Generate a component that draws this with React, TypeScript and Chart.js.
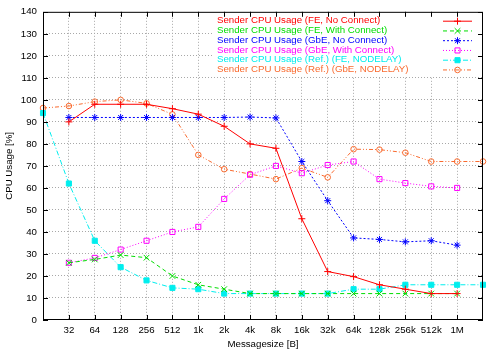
import React, { useEffect, useRef } from "react";
import { Chart, registerables } from "chart.js";

Chart.register(...registerables);

const messageSizes = ["16", "32", "64", "128", "256", "512", "1k", "2k", "4k", "8k", "16k", "32k", "64k", "128k", "256k", "512k", "1M", "2M"];
const yTicks = [0, 10, 20, 30, 40, 50, 60, 70, 80, 90, 100, 110, 120, 130, 140];

const feNoConnect = [null, 90, 98, 98, 98, 96, 93.5, 88, 80, 78, 46, 22, 19.7, 16, 14, 12, 12, null];
const feWithConnect = [null, 26, 27.5, 29.5, 28.3, 20, 16, 14, 12, 12, 12, 12, 12, 12, 12, 12, 12, null];
const gbeNoConnect = [null, 92, 92, 92, 92, 92, 92, 92, 92.2, 91.8, 72, 54.2, 37.3, 36.6, 35.5, 36, 34, null];
const gbeWithConnect = [null, 26, 28.2, 32, 36, 40, 42.3, 55, 66, 70, 66.7, 70.4, 72, 64, 62.2, 60.7, 60, null];
const refFeNodelay = [94, 62, 36, 24, 18, 14.6, 14, 12, 12, 12, 12, 12, 14, 14, 16, 16, 16, 16];
const refGbeNodelay = [96.3, 97.2, 99.2, 100, 98.4, 93.4, 75, 68.5, 66.3, 64, 69, 64.8, 77.6, 77.4, 76, 72, 72, 72];

const seriesLabels = [
  "Sender CPU Usage (FE, No Connect)",
  "Sender CPU Usage (FE, With Connect)",
  "Sender CPU Usage (GbE, No Connect)",
  "Sender CPU Usage (GbE, With Connect)",
  "Sender CPU Usage (Ref.) (FE, NODELAY)",
  "Sender CPU Usage (Ref.) (GbE, NODELAY)",
];

const FONT = '"Liberation Sans", Arial, sans-serif';
const FS = 9.7;

type Style = { color: string; dash: number[]; point: string; radius: number; fill: boolean };
const styles: Style[] = [
  { color: "#ff0000", dash: [], point: "cross", radius: 3.5, fill: false },
  { color: "#00dd00", dash: [4, 3], point: "crossRot", radius: 4, fill: false },
  { color: "#0000ff", dash: [2, 2], point: "star", radius: 3.5, fill: false },
  { color: "#ff00ff", dash: [1, 2], point: "rect", radius: 3.6, fill: false },
  { color: "#00eeee", dash: [5, 2, 1, 2], point: "rect", radius: 3.6, fill: true },
  { color: "#f96a2e", dash: [4, 2, 1, 2, 1, 2], point: "circle", radius: 2.8, fill: false },
];

function drawMarker(ctx: CanvasRenderingContext2D, s: Style, x: number, y: number) {
  const r = s.radius;
  ctx.save();
  ctx.setLineDash([]);
  ctx.strokeStyle = s.color;
  ctx.fillStyle = s.color;
  ctx.lineWidth = 1;
  ctx.beginPath();
  if (s.point === "cross" || s.point === "star") {
    ctx.moveTo(x - r, y);
    ctx.lineTo(x + r, y);
    ctx.moveTo(x, y - r);
    ctx.lineTo(x, y + r);
  }
  if (s.point === "crossRot" || s.point === "star") {
    const d = r * Math.SQRT1_2;
    ctx.moveTo(x - d, y - d);
    ctx.lineTo(x + d, y + d);
    ctx.moveTo(x - d, y + d);
    ctx.lineTo(x + d, y - d);
  }
  if (s.point === "rect") {
    const h = r * Math.SQRT1_2;
    ctx.rect(x - h, y - h, 2 * h, 2 * h);
    if (s.fill) ctx.fill();
  }
  if (s.point === "circle") {
    ctx.arc(x, y, r, 0, Math.PI * 2);
  }
  ctx.stroke();
  ctx.restore();
}

const decorPlugin = {
  id: "decor",
  afterDatasetsDraw(chart: any) {
    const { ctx, chartArea: a, scales } = chart;
    ctx.save();
    // legend box
    const boxLeft = 213;
    ctx.fillStyle = "#ffffff";
    ctx.fillRect(boxLeft, a.top, a.right - boxLeft, 65);
    ctx.font = `${FS}px ${FONT}`;
    ctx.textBaseline = "middle";
    ctx.textAlign = "left";
    chart.data.datasets.forEach((ds: any, i: number) => {
      const s = styles[i];
      const y = 20.7 + i * 9.75;
      ctx.fillStyle = s.color;
      ctx.fillText(ds.label, 217, y);
      ctx.save();
      ctx.strokeStyle = s.color;
      ctx.lineWidth = 1;
      ctx.setLineDash(s.dash);
      ctx.beginPath();
      ctx.moveTo(443, y + 0.5);
      ctx.lineTo(472, y + 0.5);
      ctx.stroke();
      ctx.restore();
      drawMarker(ctx, s, 457.5, y + 0.5);
    });
    // border
    ctx.strokeStyle = "#000";
    ctx.lineWidth = 1;
    ctx.setLineDash([]);
    ctx.strokeRect(a.left + 0.5, a.top + 0.5, a.right - a.left - 1, a.bottom - a.top - 1);
    // tick marks (inward, mirrored)
    ctx.beginPath();
    for (let i = 1; i < messageSizes.length - 1; i++) {
      const x = Math.round(scales.x.getPixelForValue(i)) + 0.5;
      ctx.moveTo(x, a.bottom);
      ctx.lineTo(x, a.bottom - 5);
      ctx.moveTo(x, a.top);
      ctx.lineTo(x, a.top + 5);
    }
    yTicks.forEach((v) => {
      const y = Math.round(scales.y.getPixelForValue(v)) + 0.5;
      ctx.moveTo(a.left, y);
      ctx.lineTo(a.left + 5, y);
      ctx.moveTo(a.right, y);
      ctx.lineTo(a.right - 5, y);
    });
    ctx.stroke();
    // axis titles
    ctx.fillStyle = "#000";
    ctx.font = `${FS}px ${FONT}`;
    ctx.textAlign = "center";
    ctx.textBaseline = "middle";
    ctx.fillText("Messagesize [B]", (a.left + a.right) / 2, 344);
    ctx.save();
    ctx.translate(9.5, (a.top + a.bottom) / 2);
    ctx.rotate(-Math.PI / 2);
    ctx.fillText("CPU Usage [%]", 0, 0);
    ctx.restore();
    ctx.restore();
  },
};

export default function App() {
  const ref = useRef<HTMLCanvasElement>(null);
  useEffect(() => {
    if (!ref.current) return;
    const values = [feNoConnect, feWithConnect, gbeNoConnect, gbeWithConnect, refFeNodelay, refGbeNodelay];
    const chart = new Chart(ref.current, {
      type: "line",
      data: {
        labels: messageSizes,
        datasets: values.map((v, i) => ({
          label: seriesLabels[i],
          data: v,
          borderColor: styles[i].color,
          backgroundColor: styles[i].fill ? styles[i].color : "rgba(0,0,0,0)",
          borderWidth: 1,
          borderDash: styles[i].dash,
          pointStyle: styles[i].point as any,
          pointRadius: styles[i].radius,
          pointBorderWidth: 1,
          pointBorderColor: styles[i].color,
          pointBackgroundColor: styles[i].fill ? styles[i].color : "rgba(0,0,0,0)",
          tension: 0,
          spanGaps: false,
          clip: false as any,
        })),
      },
      options: {
        animation: false,
        responsive: false,
        events: [],
        layout: { padding: { top: 11, right: 17, left: 0, bottom: 0 } },
        plugins: { legend: { display: false }, tooltip: { enabled: false }, title: { display: false } },
        scales: {
          x: {
            type: "category",
            offset: false,
            afterFit: (s: any) => {
              s.height = 30;
            },
            grid: {
              drawTicks: false,
              color: (c: any) => (c.index === 0 || c.index === messageSizes.length - 1 ? "rgba(0,0,0,0)" : "#a8a8a8"),
              lineWidth: 1,
            },
            border: { display: false, dash: [1, 2] },
            ticks: {
              autoSkip: false,
              maxRotation: 0,
              padding: 5,
              color: "#000",
              font: { family: FONT, size: FS },
              callback: (_v: any, i: number) => (i === 0 || i === messageSizes.length - 1 ? "" : messageSizes[i]),
            },
          },
          y: {
            min: 0,
            max: 140,
            afterFit: (s: any) => {
              s.width = 43;
            },
            afterBuildTicks: (s: any) => {
              s.ticks = yTicks.map((v) => ({ value: v }));
            },
            grid: {
              drawTicks: false,
              color: (c: any) => (c.tick && (c.tick.value === 0 || c.tick.value === 140) ? "rgba(0,0,0,0)" : "#a8a8a8"),
              lineWidth: 1,
            },
            border: { display: false, dash: [1, 2] },
            ticks: {
              padding: 6,
              color: "#000",
              font: { family: FONT, size: FS },
              callback: (v: any) => String(v),
            },
          },
        },
      },
      plugins: [decorPlugin],
    });
    return () => chart.destroy();
  }, []);
  return (
    <div style={{ position: "absolute", left: 0, top: 0, width: 500, height: 350, background: "#fff" }}>
      <canvas ref={ref} width={500} height={350} style={{ width: 500, height: 350 }} />
    </div>
  );
}
